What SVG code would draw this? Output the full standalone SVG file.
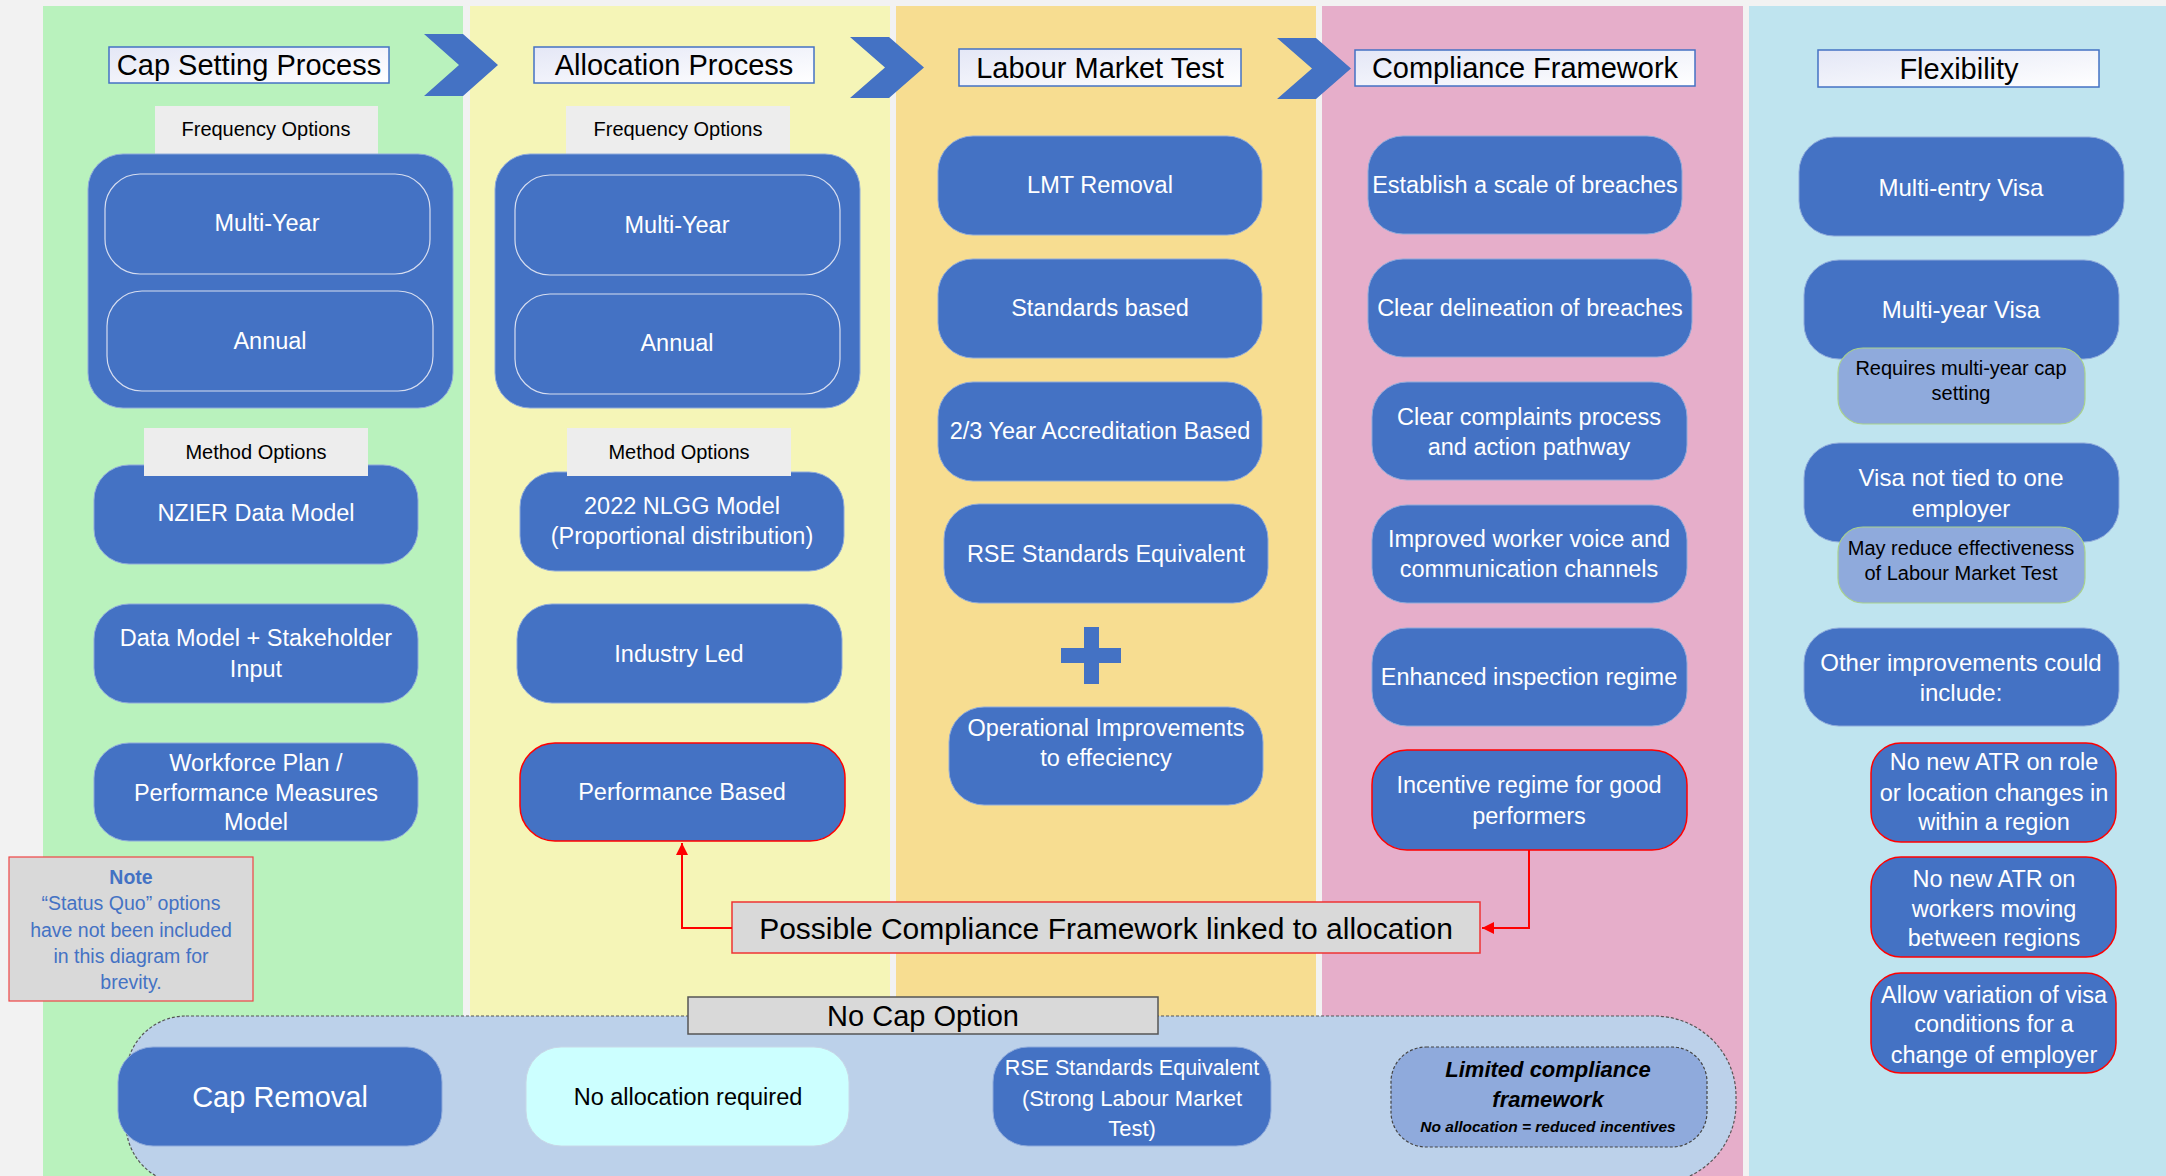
<svg xmlns="http://www.w3.org/2000/svg" width="2166" height="1176" viewBox="0 0 2166 1176">
<defs>
<linearGradient id="tg" x1="0" y1="0" x2="1" y2="1">
<stop offset="0" stop-color="#e4e7f6"/>
<stop offset="1" stop-color="#ffffff"/>
</linearGradient>
<marker id="ah" viewBox="0 0 10 10" refX="10" refY="5" markerWidth="14" markerHeight="12" markerUnits="userSpaceOnUse" orient="auto">
<path d="M0,0 L10,5 L0,10 z" fill="#ff0000"/>
</marker>
</defs>
<style>
text{font-family:"Liberation Sans",Arial,sans-serif;text-anchor:middle;dominant-baseline:central}
.n{fill:#4472c4;stroke:#8eaadb;stroke-width:1}
.nr{fill:#4472c4;stroke:#ff0000;stroke-width:1.5}
.in{fill:#4472c4;stroke:#d6ddf0;stroke-width:1.2}
.w{fill:#ffffff;font-size:23.5px}
.w24{fill:#ffffff;font-size:24px}
.ti{fill:url(#tg);stroke:#4472c4;stroke-width:1.5}
.tt{fill:#000;font-size:29px}
.lb{fill:#ededed}
.lt{fill:#000;font-size:20px}
.sb{fill:#8faadc;stroke:#a9d18e;stroke-width:1.2}
.st{fill:#000;font-size:20px}
.chev{fill:#4472c4}
.cn{fill:none;stroke:#ff0000;stroke-width:2}
</style>
<rect x="0" y="0" width="2166" height="1176" fill="#f2f2f2"/>
<g id="columns">
<rect x="43" y="6" width="420" height="1170" fill="#b9f2bd"/>
<rect x="470" y="6" width="420" height="1170" fill="#f5f5b7"/>
<rect x="896" y="6" width="420" height="1170" fill="#f7dd91"/>
<rect x="1322" y="6" width="421" height="1170" fill="#e6aeca"/>
<rect x="1749" y="6" width="417" height="1170" fill="#bfe4ef"/>
</g>
<g id="chevrons">
<polygon class="chev" points="424,34 463,34 498,65 463,96 424,96 459,65"/>
<polygon class="chev" points="850,37 889,37 924,67.5 889,98 850,98 885,67.5"/>
<polygon class="chev" points="1277,38 1316,38 1351,68.5 1316,99 1277,99 1312,68.5"/>
</g>
<g id="no-cap-container">
<path d="M186,1016 H1654 A82,80 0 0 1 1736,1096 V1104 A82,80 0 0 1 1654,1184 H186 A60,60 0 0 1 126,1124 V1076 A60,60 0 0 1 186,1016 Z" fill="#bcd1ea" stroke="#555" stroke-width="1.2" stroke-dasharray="3,2"/>
</g>
<g id="title-cap-setting"><rect class="ti" x="109" y="47" width="280" height="36"/><text class="tt" x="249" y="65">Cap Setting Process</text></g>
<g id="title-allocation"><rect class="ti" x="534" y="47" width="280" height="36"/><text class="tt" x="674" y="65">Allocation Process</text></g>
<g id="title-lmt"><rect class="ti" x="959" y="49" width="282" height="37"/><text class="tt" x="1100" y="67.5">Labour Market Test</text></g>
<g id="title-compliance"><rect class="ti" x="1355" y="50" width="340" height="36"/><text class="tt" x="1525" y="68">Compliance Framework</text></g>
<g id="title-flexibility"><rect class="ti" x="1818" y="50" width="281" height="37"/><text class="tt" x="1959" y="68.5">Flexibility</text></g>
<g id="cap-frequency">
<rect class="lb" x="155" y="106" width="223" height="48"/><text class="lt" x="266" y="129">Frequency Options</text>
<rect class="n" x="88" y="154" width="365" height="254" rx="35"/>
<rect class="in" x="105" y="174" width="325" height="100" rx="35"/><text class="w" x="267" y="223">Multi-Year</text>
<rect class="in" x="107" y="291" width="326" height="100" rx="35"/><text class="w" x="270" y="341">Annual</text>
</g>
<g id="cap-nzier"><rect class="n" x="94" y="465" width="324" height="99" rx="35"/><text class="w" x="256" y="513">NZIER Data Model</text></g>
<g id="cap-method-label"><rect class="lb" x="144" y="428" width="224" height="48"/><text class="lt" x="256" y="452">Method Options</text></g>
<g id="cap-data-stakeholder"><rect class="n" x="94" y="604" width="324" height="99" rx="35"/><text class="w" x="256" y="638">Data Model + Stakeholder</text><text class="w" x="256" y="669">Input</text></g>
<g id="cap-workforce"><rect class="n" x="94" y="743" width="324" height="98" rx="35"/><text class="w" x="256" y="763">Workforce Plan /</text><text class="w" x="256" y="793">Performance Measures</text><text class="w" x="256" y="822">Model</text></g>
<g id="note"><rect x="9" y="857" width="244" height="144" fill="#d9d9d9" stroke="#ee4444" stroke-width="1.2"/>
<text x="131" y="877" fill="#4472c4" font-size="19.5px" font-weight="bold">Note</text>
<text x="131" y="903" fill="#4472c4" font-size="19.5px">“Status Quo” options</text>
<text x="131" y="930" fill="#4472c4" font-size="19.5px">have not been included</text>
<text x="131" y="956" fill="#4472c4" font-size="19.5px">in this diagram for</text>
<text x="131" y="982" fill="#4472c4" font-size="19.5px">brevity.</text></g>
<g id="alloc-frequency">
<rect class="lb" x="566" y="106" width="224" height="48"/><text class="lt" x="678" y="129">Frequency Options</text>
<rect class="n" x="495" y="154" width="365" height="254" rx="35"/>
<rect class="in" x="515" y="175" width="325" height="100" rx="35"/><text class="w" x="677" y="225">Multi-Year</text>
<rect class="in" x="515" y="294" width="325" height="100" rx="35"/><text class="w" x="677" y="343">Annual</text>
</g>
<g id="alloc-nlgg"><rect class="n" x="520" y="472" width="324" height="99" rx="35"/><text class="w" x="682" y="506">2022 NLGG Model</text><text class="w" x="682" y="536">(Proportional distribution)</text></g>
<g id="alloc-method-label"><rect class="lb" x="567" y="428" width="224" height="48"/><text class="lt" x="679" y="452">Method Options</text></g>
<g id="alloc-industry"><rect class="n" x="517" y="604" width="325" height="99" rx="35"/><text class="w" x="679" y="654">Industry Led</text></g>
<g id="alloc-performance"><rect class="nr" x="520" y="743" width="325" height="98" rx="35"/><text class="w" x="682" y="792">Performance Based</text></g>
<g id="lmt-removal"><rect class="n" x="938" y="136" width="324" height="99" rx="35"/><text class="w" x="1100" y="185">LMT Removal</text></g>
<g id="lmt-standards"><rect class="n" x="938" y="259" width="324" height="99" rx="35"/><text class="w" x="1100" y="308">Standards based</text></g>
<g id="lmt-accreditation"><rect class="n" x="938" y="382" width="324" height="99" rx="35"/><text class="w" x="1100" y="431">2/3 Year Accreditation Based</text></g>
<g id="lmt-rse"><rect class="n" x="944" y="504" width="324" height="99" rx="35"/><text class="w" x="1106" y="554">RSE Standards Equivalent</text></g>
<g id="lmt-plus"><rect class="chev" x="1084" y="627" width="15" height="57"/><rect class="chev" x="1061" y="648" width="60" height="15"/></g>
<g id="lmt-operational"><rect class="n" x="949" y="707" width="314" height="98" rx="35"/><text class="w" x="1106" y="728">Operational Improvements</text><text class="w" x="1106" y="758">to effeciency</text></g>
<g id="cf-scale"><rect class="n" x="1368" y="136" width="314" height="98" rx="35"/><text class="w" x="1525" y="185" font-size="23px">Establish a scale of breaches</text></g>
<g id="cf-delineation"><rect class="n" x="1368" y="259" width="324" height="98" rx="35"/><text class="w" x="1530" y="308">Clear delineation of breaches</text></g>
<g id="cf-complaints"><rect class="n" x="1372" y="382" width="315" height="98" rx="35"/><text class="w" x="1529" y="417">Clear complaints process</text><text class="w" x="1529" y="447">and action pathway</text></g>
<g id="cf-voice"><rect class="n" x="1372" y="505" width="315" height="98" rx="35"/><text class="w" x="1529" y="539">Improved worker voice and</text><text class="w" x="1529" y="569">communication channels</text></g>
<g id="cf-inspection"><rect class="n" x="1372" y="628" width="315" height="98" rx="35"/><text class="w" x="1529" y="677">Enhanced inspection regime</text></g>
<g id="cf-incentive"><rect class="nr" x="1372" y="750" width="315" height="100" rx="35"/><text class="w" x="1529" y="785">Incentive regime for good</text><text class="w" x="1529" y="816">performers</text></g>
<g id="flex-multi-entry"><rect class="n" x="1799" y="137" width="325" height="99" rx="35"/><text class="w24" x="1961" y="187">Multi-entry Visa</text></g>
<g id="flex-multi-year"><rect class="n" x="1804" y="260" width="315" height="99" rx="35"/><text class="w24" x="1961" y="309">Multi-year Visa</text></g>
<g id="flex-requires"><rect class="sb" x="1838" y="348" width="247" height="76" rx="25"/><text class="st" x="1961" y="368">Requires multi-year cap</text><text class="st" x="1961" y="393">setting</text></g>
<g id="flex-not-tied"><rect class="n" x="1804" y="443" width="315" height="99" rx="35"/><text class="w24" x="1961" y="477">Visa not tied to one</text><text class="w24" x="1961" y="508">employer</text></g>
<g id="flex-may-reduce"><rect class="sb" x="1838" y="527" width="247" height="76" rx="25"/><text class="st" x="1961" y="548">May reduce effectiveness</text><text class="st" x="1961" y="573">of Labour Market Test</text></g>
<g id="flex-other"><rect class="n" x="1804" y="628" width="315" height="98" rx="35"/><text class="w24" x="1961" y="662">Other improvements could</text><text class="w24" x="1961" y="692">include:</text></g>
<g id="flex-atr-role"><rect class="nr" x="1871" y="743" width="245" height="99" rx="30"/><text class="w" x="1994" y="762">No new ATR on role</text><text class="w" x="1994" y="793">or location changes in</text><text class="w" x="1994" y="822">within a region</text></g>
<g id="flex-atr-workers"><rect class="nr" x="1871" y="857" width="245" height="100" rx="30"/><text class="w" x="1994" y="879">No new ATR on</text><text class="w" x="1994" y="909">workers moving</text><text class="w" x="1994" y="938">between regions</text></g>
<g id="flex-variation"><rect class="nr" x="1871" y="973" width="245" height="100" rx="30"/><text class="w" x="1994" y="995">Allow variation of visa</text><text class="w" x="1994" y="1024">conditions for a</text><text class="w" x="1994" y="1055">change of employer</text></g>
<g id="no-cap-label"><rect x="688" y="997" width="470" height="37" fill="#d9d9d9" stroke="#555" stroke-width="1.5"/><text x="923" y="1016" fill="#000" font-size="29px">No Cap Option</text></g>
<g id="cap-removal"><rect class="n" x="118" y="1047" width="324" height="99" rx="35"/><text x="280" y="1097" fill="#fff" font-size="29px">Cap Removal</text></g>
<g id="no-allocation"><rect x="526" y="1047" width="323" height="99" rx="35" fill="#ccffff" stroke="#c8d8e8" stroke-width="1"/><text x="688" y="1097" fill="#000" font-size="23.5px">No allocation required</text></g>
<g id="rse-strong"><rect class="n" x="993" y="1047" width="278" height="99" rx="35"/><text x="1132" y="1068" fill="#fff" font-size="21.5px">RSE Standards Equivalent</text><text x="1132" y="1098" fill="#fff" font-size="22px">(Strong Labour Market</text><text x="1132" y="1128" fill="#fff" font-size="22px">Test)</text></g>
<g id="limited-compliance"><rect x="1391" y="1047" width="316" height="100" rx="35" fill="#8faadc" stroke="#444" stroke-width="1.2" stroke-dasharray="3,2"/><text x="1548" y="1069" fill="#000" font-size="22px" font-weight="bold" font-style="italic">Limited compliance</text><text x="1548" y="1099" fill="#000" font-size="22px" font-weight="bold" font-style="italic">framework</text><text x="1548" y="1126" fill="#000" font-size="15.5px" font-weight="bold" font-style="italic">No allocation = reduced incentives</text></g>
<g id="possible-compliance"><rect x="732" y="902" width="748" height="51" fill="#d9d9d9" stroke="#ee3333" stroke-width="1.5"/><text x="1106" y="928" fill="#000" font-size="30px">Possible Compliance Framework linked to allocation</text></g>
<g id="connectors">
<path class="cn" d="M732,928 H682 V843" marker-end="url(#ah)"/>
<path class="cn" d="M1529,850 V928 H1482" marker-end="url(#ah)"/>
</g>
</svg>
